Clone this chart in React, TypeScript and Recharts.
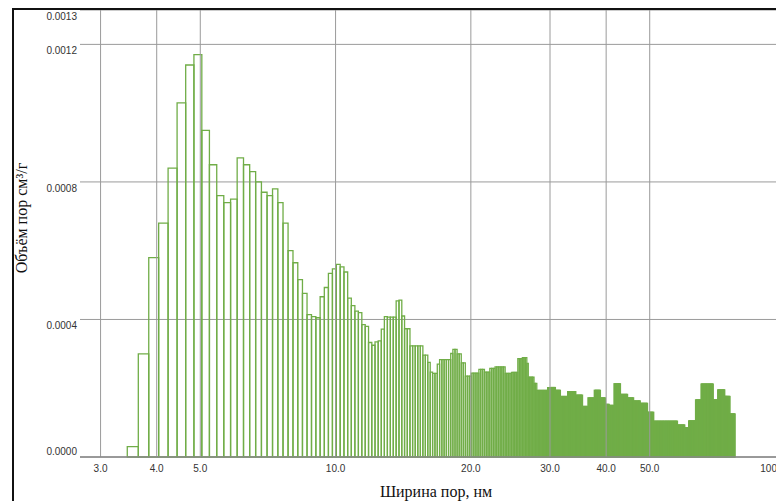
import { ComposedChart, XAxis, YAxis, CartesianGrid, ReferenceArea, ReferenceLine, Label } from 'recharts';

// pore size histogram: bins are 0.2 nm wide, the first one starts at 3.44 nm
const BIN_START = 3.44;
const BIN_WIDTH = 0.2;

// pore volume per bin, in 1e-5 cm3/g
const poreVolume = [
  3, 30, 58, 68, 84, 103, 114, 117, 95, 85,
  76, 74, 75, 87, 85, 83, 80, 77, 76, 78,
  74, 68, 60, 56.5, 51.6, 47.6, 41.4, 40.8, 40.5, 46.6,
  49.3, 53.4, 54.7, 56, 55.3, 53.8, 46.2, 44, 42.4, 42,
  38.5, 38, 33.3, 32.5, 33.5, 33.8, 37.2, 40.8, 40.7, 40.7,
  40.7, 45.4, 45.6, 41, 37.3, 37.3, 32.3, 32.3, 32.3, 32.3,
  32.3, 29.6, 29.6, 27.5, 24.7, 24.3, 24.3, 27, 28.3, 28.3,
  28.3, 28.3, 28.3, 30.1, 31.3, 31.3, 30, 30, 27.4, 27.4,
  23.5, 23.5, 23.5, 24.4, 24.4, 24.4, 24.4, 25.5, 25.5, 25.5,
  24.7, 24.7, 24.7, 25.8, 25.8, 25.8, 26.2, 26.2, 26.2, 26.2,
  26.2, 26.2, 24.3, 24.3, 24.3, 24.3, 24.6, 24.6, 24.6, 24.6,
  28.6, 28.6, 28.6, 28.9, 28.9, 28.9, 27.2, 23.2, 23.2, 23.2,
  23.2, 21.4, 21.4, 19.4, 19.4, 19.4, 19.4, 19.4, 19.4, 19.4,
  19.4, 20.2, 20.2, 20.2, 20.2, 20.2, 20.2, 19.4, 19.4, 19.4,
  19.4, 17.6, 17.6, 17.6, 17.6, 17.6, 17.6, 19, 19, 19,
  19, 19, 19, 19, 18, 18, 18, 18, 18, 18,
  14.7, 14.7, 14.7, 14.7, 14.7, 17.2, 17.2, 17.2, 17.2, 17.2,
  17.2, 19.4, 19.4, 19.4, 19.4, 19.4, 19.4, 17.2, 17.2, 17.2,
  17.2, 17.2, 15.3, 15.3, 15.3, 15.3, 15, 15, 15, 15,
  15, 21.3, 21.3, 21.3, 21.3, 21.3, 21.3, 21.3, 18.2, 18.2,
  18.2, 18.2, 18.2, 18.2, 18.2, 18.2, 17.2, 17.2, 17.2, 17.2,
  17.2, 17.2, 17.2, 16.3, 16.3, 16.3, 16.3, 16.3, 16.3, 16.3,
  16.3, 15.6, 15.6, 15.6, 15.6, 15.6, 15.6, 15.6, 15.6, 15.6,
  13, 13, 13, 13, 13, 13, 13, 13, 10.4, 10.4,
  10.4, 10.4, 10.4, 10.4, 10.4, 10.4, 10.4, 10.4, 10.4, 10.4,
  10.4, 10.4, 10.4, 10.4, 10.4, 10.4, 10.4, 10.4, 10.4, 10.4,
  10.4, 10.4, 10.4, 10.4, 10.4, 10.4, 10.4, 10.4, 10.4, 10.4,
  10.4, 9.3, 9.3, 9.3, 9.3, 9.3, 9.3, 9.3, 9.3, 9.3,
  9.3, 9.3, 8.5, 8.5, 8.5, 8.5, 8.5, 8.5, 10.5, 10.5,
  10.5, 10.5, 10.5, 10.5, 10.5, 10.5, 10.5, 10.5, 10.5, 16.6,
  16.6, 16.6, 16.6, 16.6, 16.6, 16.6, 16.6, 16.6, 21.2, 21.2,
  21.2, 21.2, 21.2, 21.2, 21.2, 21.2, 21.2, 21.2, 21.2, 21.2,
  21.2, 21.2, 21.2, 21.2, 21.2, 21.2, 21.2, 21.2, 21.2, 16.6,
  16.6, 16.6, 16.6, 16.6, 16.6, 16.6, 16.6, 19.5, 19.5, 19.5,
  19.5, 19.5, 19.5, 19.5, 19.5, 19.5, 19.5, 19.5, 19.5, 19.5,
  17.6, 17.6, 17.6, 17.6, 17.6, 17.6, 17.6, 17.6, 17.6, 17.6,
  12.5, 12.5, 12.5, 12.5, 12.5, 12.5, 12.5, 12.5, 12.5, 12.5,
];

const xTicks = [3, 4, 5, 10, 20, 30, 40, 50, 100];
const yTicks = [0, 0.0004, 0.0008, 0.0012, 0.0013];

const bins = poreVolume.map((v, i) => ({
  lo: +(BIN_START + i * BIN_WIDTH).toFixed(2),
  hi: +(BIN_START + (i + 1) * BIN_WIDTH).toFixed(2),
  volume: v / 100000,
}));

const tickFont = "'Liberation Sans', Arial, sans-serif";
const labelFont = "'Liberation Serif', 'Times New Roman', serif";

function XTick({ x, y, payload }: any) {
  const v = payload.value;
  const last = v === 100;
  return (
    <text
      x={last ? x - 8 : x}
      y={y + 15}
      textAnchor={last ? 'end' : 'middle'}
      fontSize={10}
      fill="#333"
      fontFamily={tickFont}
    >
      {last ? '100' : v.toFixed(1)}
    </text>
  );
}

function YTick({ x, y, payload }: any) {
  const v = payload.value;
  return (
    <text x={x} y={v === 0 ? y - 2 : y + 10} textAnchor="end" fontSize={10} fill="#333" fontFamily={tickFont}>
      {v.toFixed(4)}
    </text>
  );
}

export default function App() {
  return (
    <div
      style={{
        position: 'absolute',
        left: 0,
        top: 0,
        width: 776,
        height: 501,
        overflow: 'hidden',
        background: '#fff',
      }}
    >
      <ComposedChart
        width={800}
        height={501}
        data={bins}
        margin={{ top: 10, right: 15, bottom: 0, left: 0 }}
        style={{ position: 'absolute', left: 0, top: 0 }}
      >
        <CartesianGrid stroke="#9a9a9a" vertical={false} />
        {xTicks.map((t) => (
          <ReferenceLine key={t} x={t} stroke="#9a9a9a" />
        ))}
        <XAxis
          dataKey="lo"
          type="number"
          scale="log"
          domain={[2.7, 100]}
          ticks={xTicks}
          interval={0}
          allowDataOverflow
          height={44}
          tickLine={false}
          tickSize={0}
          tickMargin={0}
          tick={<XTick />}
          axisLine={{ stroke: '#888', strokeWidth: 1.5 }}
        >
          <Label
            content={() => (
              <text x={436} y={497} textAnchor="middle" fontSize={16} fill="#111" fontFamily={labelFont}>
                Ширина пор, нм
              </text>
            )}
          />
        </XAxis>
        <YAxis
          dataKey="volume"
          type="number"
          domain={[0, 0.0013]}
          ticks={yTicks}
          interval={0}
          allowDataOverflow
          width={80}
          axisLine={false}
          tickLine={false}
          tickSize={0}
          tickMargin={3}
          tick={<YTick />}
        >
          <Label
            content={() => (
              <text
                x={27}
                y={218}
                transform="rotate(-90 27 218)"
                textAnchor="middle"
                fontSize={16}
                fill="#111"
                fontFamily={labelFont}
              >
                Объём пор см³/г
              </text>
            )}
          />
        </YAxis>
        {bins.map((b, i) => (
          <ReferenceArea
            key={i}
            x1={b.lo}
            x2={b.hi}
            y1={0}
            y2={b.volume}
            fill="none"
            stroke="#70ad47"
            strokeWidth={1.3}
          />
        ))}
      </ComposedChart>
      <div
        style={{
          position: 'absolute',
          left: 12,
          top: 8,
          width: 900,
          height: 600,
          borderLeft: '2px solid #111',
          borderTop: '2px solid #111',
          pointerEvents: 'none',
        }}
      />
    </div>
  );
}
